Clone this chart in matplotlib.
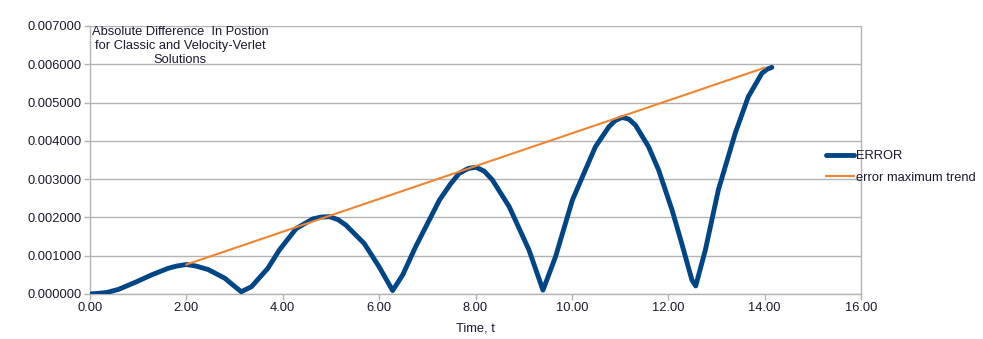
import matplotlib
matplotlib.use("Agg")
import matplotlib.pyplot as plt

plt.rcParams['font.family'] = ['Liberation Sans', 'DejaVu Sans']

# Data
time_t = [0.00, 0.20, 0.35, 0.59, 0.93, 1.28, 1.62, 1.80, 2.00, 2.20, 2.45, 2.80,
          2.97, 3.14, 3.35, 3.69, 3.93, 4.28, 4.62, 4.80, 4.97, 5.15, 5.31, 5.69,
          6.00, 6.28, 6.49, 6.76, 7.04, 7.25, 7.48, 7.66, 7.85, 8.01, 8.18, 8.35,
          8.70, 9.11, 9.40, 9.66, 10.01, 10.28, 10.49, 10.77, 10.90, 11.04, 11.18,
          11.32, 11.59, 11.80, 12.08, 12.28, 12.49, 12.57, 12.77, 13.04, 13.39,
          13.66, 13.94, 14.05, 14.15]
error = [0.00000, 0.00002, 0.00004, 0.00012, 0.00030, 0.00050, 0.00067, 0.00073,
         0.00077, 0.00073, 0.00064, 0.00041, 0.00023, 0.00006, 0.00019, 0.00067,
         0.00115, 0.00171, 0.00196, 0.00201, 0.00202, 0.00194, 0.00180, 0.00132,
         0.00071, 0.00009, 0.00050, 0.00124, 0.00193, 0.00245, 0.00287, 0.00315,
         0.00328, 0.00331, 0.00321, 0.00298, 0.00228, 0.00115, 0.00010, 0.00097,
         0.00245, 0.00324, 0.00385, 0.00437, 0.00453, 0.00461, 0.00457, 0.00441,
         0.00385, 0.00324, 0.00219, 0.00132, 0.00037, 0.00021, 0.00115, 0.00272,
         0.00420, 0.00515, 0.00576, 0.00587, 0.00592]
trend_t = [2.00, 14.00]
trend_v = [0.00077, 0.00591]

x_ticks = [0, 2, 4, 6, 8, 10, 12, 14, 16]
y_ticks = [0.000, 0.001, 0.002, 0.003, 0.004, 0.005, 0.006, 0.007]

W, H = 983, 339
fig = plt.figure(figsize=(W / 100, H / 100), dpi=100)
ax = fig.add_axes([90 / W, (H - 294) / H, (861 - 90) / W, (294 - 26) / H])

grid_c = '#b3b3b3'
txt_c = '#1a1a2e'
fs = 9.3
ax.plot(time_t, error, color='#004586', lw=3.5, solid_joinstyle='round',
        solid_capstyle='round', label='ERROR', zorder=3)
ax.plot(trend_t, trend_v, color='#f0842f', lw=1.5, label='error maximum trend', zorder=4)

ax.set_xlim(0, 16)
ax.set_ylim(0, 0.007)
ax.set_xticks(x_ticks)
ax.set_yticks(y_ticks)
ax.set_xticklabels([f"{v:.2f}" for v in x_ticks])
ax.set_yticklabels([f"{v:.6f}" for v in y_ticks])
ax.yaxis.grid(True, color=grid_c, lw=1.0)
ax.set_axisbelow(True)
for s in ['top', 'bottom', 'left', 'right']:
    ax.spines[s].set_color(grid_c)
    ax.spines[s].set_linewidth(1.0)
ax.spines['top'].set_visible(False)
ax.tick_params(axis='both', colors=grid_c, labelcolor=txt_c, labelsize=fs,
               length=4, width=1.0, direction='out', pad=2)

ax.set_xlabel('Time, t', fontsize=fs, color=txt_c, labelpad=6)

fig.text(180 / W, (H - 26) / H,
         'Absolute Difference  In Postion\nfor Classic and Velocity-Verlet\nSolutions',
         fontsize=fs, color=txt_c, ha='center', va='top',
         multialignment='center', linespacing=1.22)

leg = fig.legend(loc='upper left', bbox_to_anchor=(826 / W, (H - 150) / H),
                 frameon=False, fontsize=fs, handlelength=2.2, handletextpad=0.15,
                 borderpad=0, borderaxespad=0, labelspacing=0.75)
for txt in leg.get_texts():
    txt.set_color(txt_c)

fig.savefig('out.png', dpi=100)
